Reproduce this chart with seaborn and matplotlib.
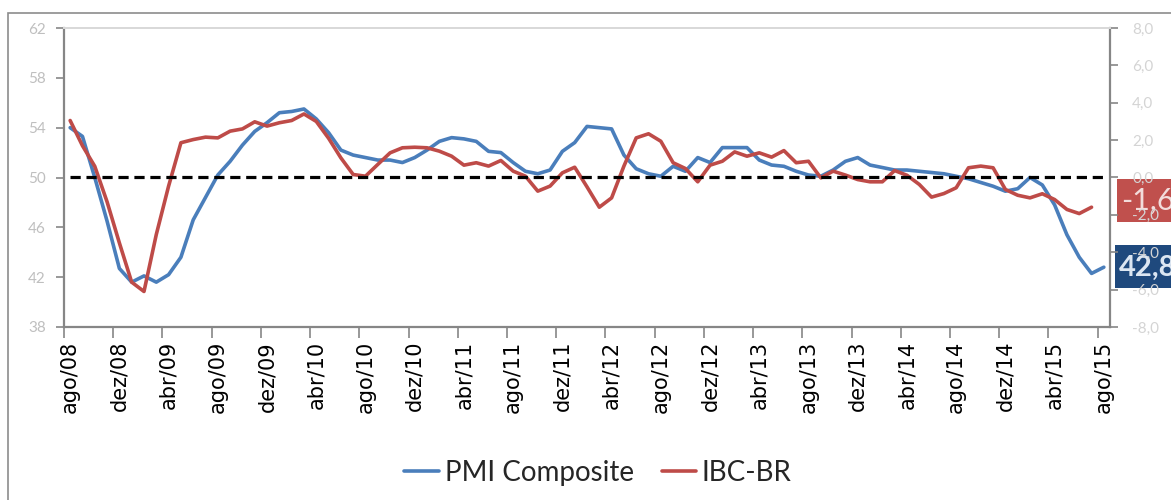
import numpy as np
import pandas as pd
import matplotlib
matplotlib.use('Agg')
import matplotlib.pyplot as plt
import matplotlib.patches as mpatches
from matplotlib.lines import Line2D
import seaborn as sns

# ── data ─────────────────────────────────────────────────────────────────────
PT_MONTHS = ['jan', 'fev', 'mar', 'abr', 'mai', 'jun',
             'jul', 'ago', 'set', 'out', 'nov', 'dez']
periods = pd.period_range('2008-08', '2015-08', freq='M')
month_labels = [f'{PT_MONTHS[p.month - 1]}/{p.year % 100:02d}' for p in periods]

pmi = [54.0, 53.3, 50.0, 46.5, 42.7, 41.6, 42.1, 41.6, 42.2, 43.6,
       46.6, 48.4, 50.2, 51.3, 52.6, 53.7, 54.4, 55.2, 55.3, 55.5,
       54.7, 53.6, 52.2, 51.8, 51.6, 51.4, 51.4, 51.2, 51.6, 52.2,
       52.9, 53.2, 53.1, 52.9, 52.1, 52.0, 51.2, 50.5, 50.3, 50.6,
       52.1, 52.8, 54.1, 54.0, 53.9, 51.8, 50.7, 50.3, 50.1, 50.9,
       50.5, 51.6, 51.2, 52.4, 52.4, 52.4, 51.4, 51.0, 50.9, 50.5,
       50.2, 50.1, 50.6, 51.3, 51.6, 51.0, 50.8, 50.6, 50.6, 50.5,
       50.4, 50.3, 50.1, 49.9, 49.6, 49.3, 48.9, 49.1, 50.0, 49.4,
       47.8, 45.4, 43.6, 42.3, 42.8]

ibc = [3.05, 1.7, 0.6, -1.3, -3.5, -5.6, -6.1, -3.05, -0.46, 1.86,
       2.03, 2.16, 2.12, 2.48, 2.6, 2.98, 2.75, 2.93, 3.05, 3.4,
       3.0, 2.1, 1.05, 0.16, 0.07, 0.7, 1.32, 1.59, 1.62, 1.59,
       1.41, 1.14, 0.66, 0.79, 0.61, 0.91, 0.34, 0.07, -0.73, -0.46,
       0.25, 0.55, -0.5, -1.59, -1.09, 0.61, 2.12, 2.34, 1.94, 0.79,
       0.48, -0.23, 0.66, 0.87, 1.37, 1.14, 1.32, 1.09, 1.44, 0.79,
       0.87, -0.02, 0.34, 0.13, -0.11, -0.23, -0.23, 0.37, 0.12, -0.37,
       -1.05, -0.86, -0.55, 0.52, 0.61, 0.52, -0.64, -0.95, -1.09, -0.87,
       -1.18, -1.71, -1.93, -1.59, np.nan]

left_ticks = [38, 42, 46, 50, 54, 58, 62]
right_ticks = [-8, -6, -4, -2, 0, 2, 4, 6, 8]
right_tick_labels = ['-8,0', '-6,0', '-4,0', '-2,0', '0,0', '2,0', '4,0', '6,0', '8,0']

df = pd.DataFrame({'idx': np.arange(len(periods)), 'mes': month_labels,
                   'PMI Composite': pmi, 'IBC-BR': ibc})

BLUE = '#4a7ebb'
RED = '#be4b48'
AXIS_GREY = '#868686'

# ── style ────────────────────────────────────────────────────────────────────
sns.set_theme(style='white')
plt.rcParams['font.family'] = ['Lato', 'DejaVu Sans']

W, H = 1171, 500
fig = plt.figure(figsize=(W / 100, H / 100), dpi=100, facecolor='white')
ax1 = fig.add_axes([64 / W, 1 - 327 / H, (1110 - 64) / W, (327 - 28) / H])
ax2 = ax1.twinx()

# outer chart border
fig.add_artist(mpatches.Rectangle((8 / W, -0.1), 1.2, 1 - 13 / H + 0.1,
                                  transform=fig.transFigure, fill=False,
                                  edgecolor='#8c8c8c', lw=1.2))

sns.lineplot(data=df, x='idx', y='PMI Composite', ax=ax1, color=BLUE, lw=2.6,
             solid_joinstyle='round')
sns.lineplot(data=df, x='idx', y='IBC-BR', ax=ax2, color=RED, lw=2.6,
             solid_joinstyle='round', solid_capstyle='round')
ax2.hlines(0, 0, len(periods) - 1, colors='black', lw=2.3,
           linestyles=(0, (3.2, 1.8)), zorder=5)

n = len(periods)
ax1.set_xlim(-0.5, n - 0.5)
ax1.set_ylim(38, 62)
ax2.set_ylim(-8, 8)

# ticks: marks on category boundaries, labels on category centres
ax1.set_xticks(np.arange(-0.5, n - 1, 4))
ax1.set_xticklabels([])
ax1.set_xticks(np.arange(0, n, 4), minor=True)
ax1.set_xticklabels(month_labels[::4], minor=True, rotation=90,
                    fontsize=15, family='DejaVu Sans', color='black')
ax1.tick_params(axis='x', which='major', direction='out', length=8, width=1.2,
                color=AXIS_GREY, bottom=True)
ax1.tick_params(axis='x', which='minor', length=0, pad=10, bottom=True)

ax1.set_yticks(left_ticks)
ax1.set_yticklabels([str(t) for t in left_ticks])
ax1.tick_params(axis='y', direction='out', length=6, width=1.2, color=AXIS_GREY,
                labelcolor='#bfbfbf', labelsize=11, pad=7, left=True)
ax2.set_yticks(right_ticks)
ax2.set_yticklabels(right_tick_labels)
ax2.tick_params(axis='y', direction='out', length=6, width=1.2, color=AXIS_GREY,
                labelcolor='#d4d4d4', labelsize=11, pad=10, right=True)

for ax in (ax1, ax2):
    ax.set_xlabel('')
    ax.set_ylabel('')
    ax.grid(False)
    for side in ('left', 'right', 'bottom'):
        ax.spines[side].set_color(AXIS_GREY)
        ax.spines[side].set_linewidth(1.6)
    ax.spines['top'].set_color('#d9d9d9')
    ax.spines['top'].set_linewidth(1.4)
ax1.spines['right'].set_visible(False)
ax2.spines['left'].set_visible(False)
ax2.spines['bottom'].set_visible(False)
ax2.set_facecolor('none')

# last-value labels
last_pmi = df['PMI Composite'].dropna().iloc[-1]
last_ibc = df['IBC-BR'].dropna().iloc[-1]
ax1.add_patch(mpatches.Rectangle((1117 / W, 1 - 222 / H), 0.1, 43 / H,
                                 transform=fig.transFigure, clip_on=False,
                                 facecolor='#c0504d', edgecolor='none'))
ax1.text(1121 / W, 1 - 201 / H, f'{last_ibc:.1f}'.replace('.', ','),
         transform=fig.transFigure, ha='left', va='center', fontsize=22,
         color='#f2dcdb', clip_on=False)
ax1.add_patch(mpatches.Rectangle((1115 / W, 1 - 288 / H), 0.1, 43 / H,
                                 transform=fig.transFigure, clip_on=False,
                                 facecolor='#1f497d', edgecolor='none'))
ax1.text(1119 / W, 1 - 268 / H, f'{last_pmi:.1f}'.replace('.', ','),
         transform=fig.transFigure, ha='left', va='center', fontsize=21,
         fontweight='bold', color='#dce6f2', clip_on=False)

# legend
handles = [Line2D([], [], color=BLUE, lw=2.6), Line2D([], [], color=RED, lw=2.6)]
fig.legend(handles, ['PMI Composite', 'IBC-BR'], loc='center',
           bbox_to_anchor=(598 / W, 1 - 473 / H), ncol=2, frameon=False,
           fontsize=20, handlelength=1.25, handletextpad=0.2, columnspacing=1.0)

fig.savefig('out.png', dpi=100, facecolor='white')
